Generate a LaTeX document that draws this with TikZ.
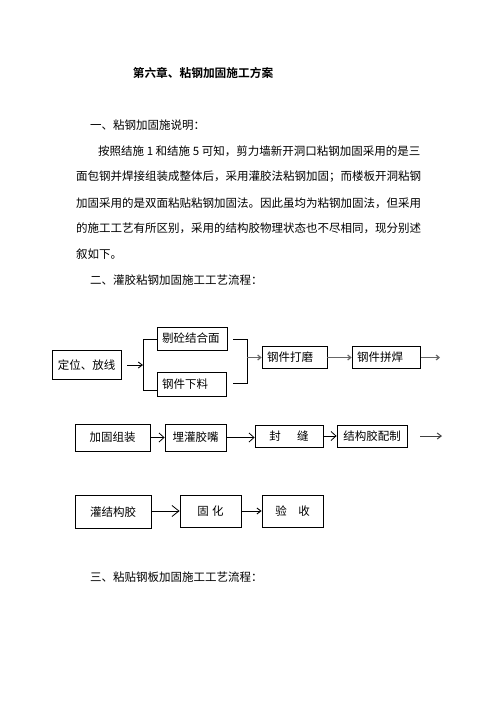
\documentclass[tikz,border=0pt]{standalone}
\usepackage{fontspec}
\setmainfont{Liberation Serif}
\newfontfamily\cjk{Noto Sans CJK SC}
\newfontfamily\cjkbold{Noto Sans CJK SC Bold}
\usetikzlibrary{arrows.meta}
\begin{document}
\begin{tikzpicture}[x=1pt,y=-1pt,
  txt/.style={anchor=west,inner sep=0pt,font=\cjk\fontsize{11.5}{12}\selectfont},
  box/.style={draw,line width=0.8pt,inner sep=0pt,font=\cjk\fontsize{11.5}{12}\selectfont},
  lbox/.style={box,inner xsep=5pt,align=left},
  conn/.style={line width=0.8pt},
  barb/.style={conn,-{Straight Barb[length=5pt,width=9pt,line width=0.8pt]}},
  bigbarb/.style={conn,-{Straight Barb[length=7pt,width=11pt,line width=0.8pt]}},
  smallbarb/.style={conn,-{Straight Barb[length=4pt,width=6pt,line width=0.9pt]}},
  greyarrow/.style={line width=1.4pt,draw=black!60,-{Straight Barb[length=3pt,width=5pt,line width=1.2pt]}},
  darkarrow/.style={line width=1pt,draw=black!75,-{Straight Barb[length=4pt,width=6pt,line width=1pt]}}
]
\useasboundingbox (0,0) rectangle (496,702);

% texts
\node[font=\cjkbold\fontsize{11.7}{12}\selectfont,inner sep=0pt] (title) at (203,73) {第六章、粘钢加固施工方案};
\node[txt] (s1) at (90,125) {一、粘钢加固施说明：};
\node[txt] (p1) at (98,151) {按照结施 1 和结施 5 可知，剪力墙新开洞口粘钢加固采用的是三};
\node[txt] (p2) at (76,177) {面包钢并焊接组装成整体后，采用灌胶法粘钢加固；而楼板开洞粘钢};
\node[txt] (p3) at (76,203) {加固采用的是双面粘贴粘钢加固法。因此虽均为粘钢加固法，但采用};
\node[txt] (p4) at (76,228) {的施工工艺有所区别，采用的结构胶物理状态也不尽相同，现分别述};
\node[txt] (p5) at (76,254) {叙如下。};
\node[txt] (s2) at (90,280) {二、灌胶粘钢加固施工工艺流程：};
\node[txt] (s3) at (90,577) {三、粘贴钢板加固施工工艺流程：};

% row 1
\node[box,minimum width=69pt,minimum height=29pt] (A) at (86.5,365) {定位、放线};
\node[lbox,text width=60pt,minimum height=23pt] (B) at (192,338.5) {剔砼结合面};
\node[lbox,text width=59pt,minimum height=24pt] (C) at (191.5,384) {钢件下料};
\node[lbox,text width=55pt,minimum height=22pt] (D) at (294.5,357.5) {钢件打磨};
\node[lbox,text width=58pt,minimum height=22pt] (E) at (386,357.5) {钢件拼焊};

\coordinate (lt) at (143,339);
\coordinate (lb) at (143,390);
\coordinate (rt) at (247,339);
\coordinate (rb) at (247,383);
\coordinate (rt0) at (233,339);
\coordinate (rb0) at (233,383);
\coordinate (e1) at (440,357.5);

\draw[smallbarb,shorten <=6pt] (A.east) -- (A.east -| lt);
\draw[conn] (B.west |- lt) -- (lt) -- (lb) -- (C.west |- lb);
\draw[conn] (rt0) -- (rt) -- (rb) -- (rb0);
\draw[greyarrow] (rt |- D.west) -- (D.west);
\draw[greyarrow] (D.east) -- (E.west);
\draw[greyarrow,shorten <=1pt] (E.east) -- (e1);

% row 2
\node[box,minimum width=75pt,minimum height=27pt] (F) at (112.5,437.5) {加固组装};
\node[box,minimum width=61pt,minimum height=27pt] (G) at (195.5,437.5) {埋灌胶嘴};
\node[box,minimum width=68pt,minimum height=22pt] (H) at (289,436) {封\hspace{1.4em}缝};
\node[box,minimum width=70pt,minimum height=22pt] (I) at (372,436) {结构胶配制};
\coordinate (i2) at (442,436);

\draw[barb] (F.east) -- (F.east -| G.west);
\draw[barb] (G.east) -- (G.east -| H.west);
\draw[barb] (H.east) -- (I.west);
\draw[darkarrow,shorten <=13pt] (I.east) -- (i2);

% row 3
\node[box,minimum width=76pt,minimum height=33pt,text depth=-6pt] (J) at (113,511.5) {灌结构胶};
\node[box,minimum width=61pt,minimum height=32pt] (K) at (210.5,511) {固\hspace{0.3em}化};
\node[box,minimum width=61pt,minimum height=32pt] (L) at (292.5,511) {验\hspace{1em}收};

\draw[bigbarb] (J.east |- K.west) -- (K.west);
\draw[smallbarb] (K.east) -- (L.west);
\end{tikzpicture}
\end{document}
